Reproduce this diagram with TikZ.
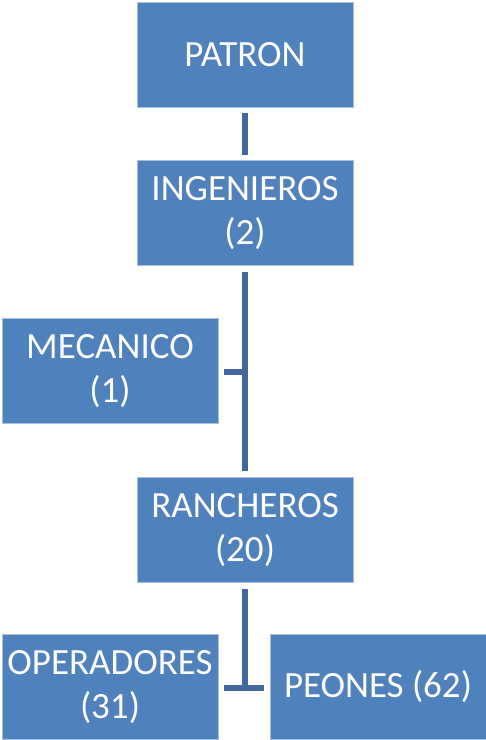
\documentclass[tikz,border=0pt]{standalone}
\usepackage{fontspec}
\setmainfont{Carlito}
\definecolor{boxfill}{HTML}{4F81BD}
\definecolor{boxedge}{HTML}{A7C0DE}
\definecolor{linkblue}{HTML}{4169A0}
\begin{document}
\begin{tikzpicture}[x=1pt,y=-1pt,
  orgbox/.style={draw=boxedge,line width=0.8pt,fill=boxfill,text=white,
    minimum width=216pt,minimum height=105pt,inner sep=2pt,align=center,
    font=\fontsize{37}{44}\selectfont},
  link/.style={draw=linkblue,line width=6pt}]
\useasboundingbox (0,0) rectangle (486,740);
\node[orgbox] (patron) at (245,55) {PATRON};
\node[orgbox] (ing) at (245,213) {INGENIEROS\\(2)};
\node[orgbox] (mec) at (110,371) {MECANICO\\(1)};
\node[orgbox] (ran) at (245,530) {RANCHEROS\\(20)};
\node[orgbox] (ope) at (110,687) {OPERADORES\\(31)};
\node[orgbox] (peo) at (378,687) {PEONES (62)};
% connectors
\coordinate (j1) at (245,372);
\coordinate (j2) at (245,688);
\draw[link] ([yshift=-5pt]patron.south) -- ([yshift=5pt]ing.north);
\draw[link] ([yshift=-6pt]ing.south) -- ([yshift=6pt]ran.north);
\draw[link] ([xshift=6pt]mec.east |- j1) -- (j1);
\draw[link] ([yshift=-6pt]ran.south) -- (j2);
\draw[link] ([xshift=6pt]ope.east |- j2) -- ([xshift=-6pt]peo.west |- j2);
\end{tikzpicture}
\end{document}
